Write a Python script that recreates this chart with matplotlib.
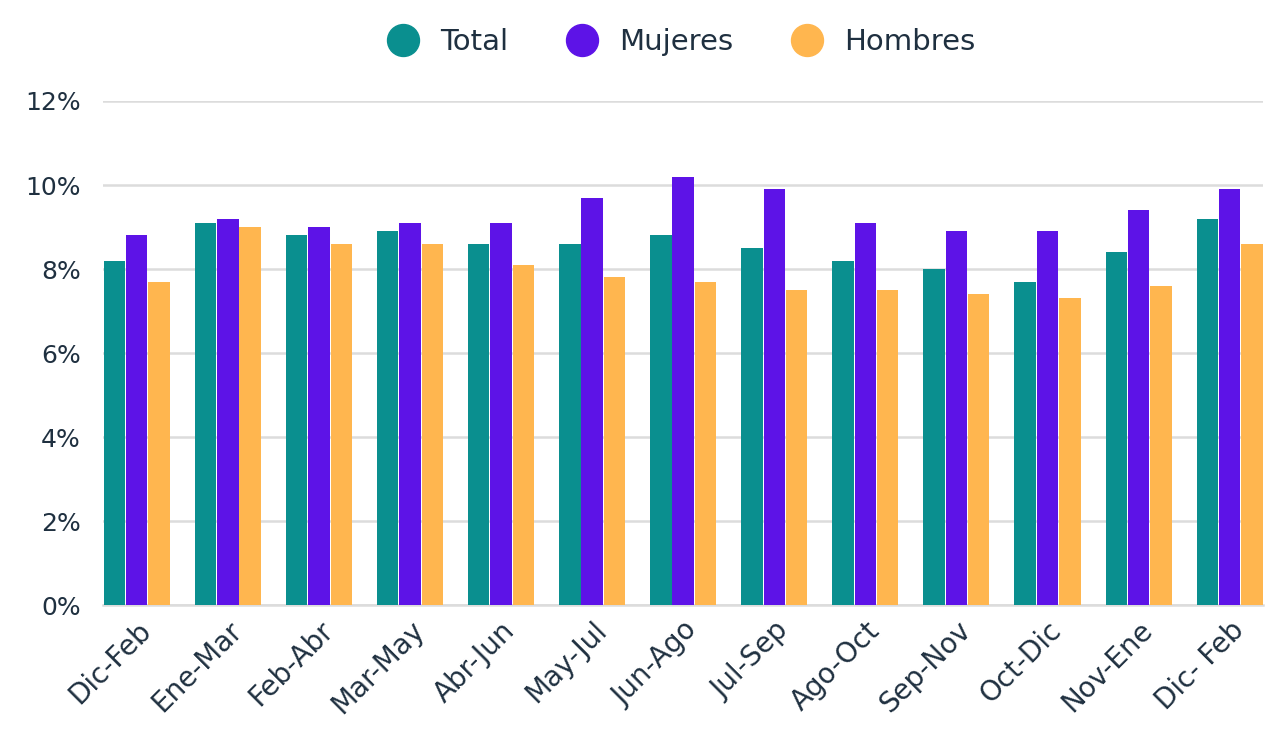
import matplotlib
matplotlib.use("Agg")
import matplotlib.pyplot as plt
import numpy as np
from matplotlib.lines import Line2D

categories = ["Dic-Feb", "Ene-Mar", "Feb-Abr", "Mar-May", "Abr-Jun", "May-Jul", "Jun-Ago",
              "Jul-Sep", "Ago-Oct", "Sep-Nov", "Oct-Dic", "Nov-Ene", "Dic- Feb"]
total = [8.2, 9.1, 8.8, 8.9, 8.6, 8.6, 8.8, 8.5, 8.2, 8.0, 7.7, 8.4, 9.2]
mujeres = [8.8, 9.2, 9.0, 9.1, 9.1, 9.7, 10.2, 9.9, 9.1, 8.9, 8.9, 9.4, 9.9]
hombres = [7.7, 9.0, 8.6, 8.6, 8.1, 7.8, 7.7, 7.5, 7.5, 7.4, 7.3, 7.6, 8.6]
series_names = ["Total", "Mujeres", "Hombres"]
colors = ["#0a8f8f", "#5d13e7", "#ffb64f"]
yticks = [0, 2, 4, 6, 8, 10, 12]

plt.rcParams['font.family'] = ['DejaVu Sans']
text_color = "#1f3040"

fig = plt.figure(figsize=(12.8, 7.34), dpi=100)
ax = fig.add_axes([0.0805, 0.1757, 0.9065, 0.6867])

x = np.arange(len(categories))
w = 0.235
off = 0.245
for i, (vals, c) in enumerate(zip([total, mujeres, hombres], colors)):
    ax.bar(x + (i - 1) * off, vals, width=w, color=c, zorder=3)

ax.set_xlim(-0.37, len(categories) - 1 + 0.37)
ax.set_ylim(0, 12)
ax.set_yticks(yticks)
ax.set_yticklabels([f"{v}%" for v in yticks], fontsize=18, color=text_color)
ax.set_xticks(x)
ax.set_xticklabels(categories, rotation=45, ha="right", rotation_mode="anchor",
                   fontsize=20, color=text_color)
ax.tick_params(axis="both", length=0)
ax.tick_params(axis="y", pad=16)
ax.tick_params(axis="x", pad=8)
ax.grid(axis="y", color="#dcdcdc", linewidth=1.8, zorder=0)
for s in ["top", "right", "left"]:
    ax.spines[s].set_visible(False)
ax.spines["bottom"].set_color("#dcdcdc")
ax.spines["bottom"].set_linewidth(1.8)

handles = [Line2D([0], [0], marker="o", linestyle="", markersize=23, markerfacecolor=c,
                  markeredgecolor=c) for c in colors]
fig.legend(handles, series_names, loc="center", bbox_to_anchor=(0.527, 0.943), ncol=3,
           frameon=False, fontsize=21, labelcolor=text_color, handletextpad=0.25,
           columnspacing=1.55)

fig.savefig("out.png", dpi=100)
